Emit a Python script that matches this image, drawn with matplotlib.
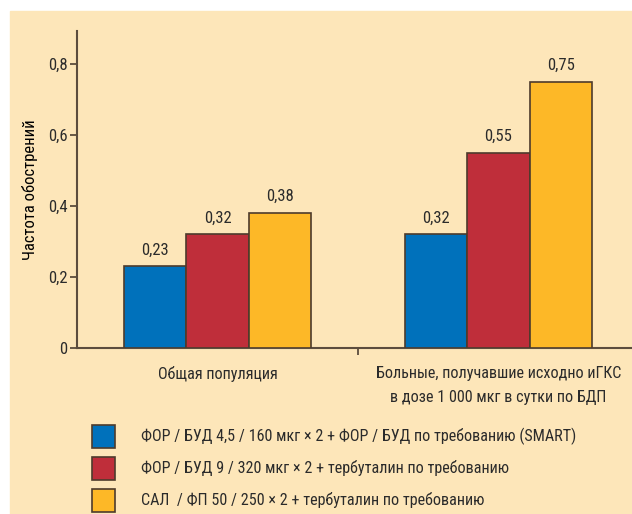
import matplotlib
matplotlib.use("Agg")
import matplotlib.pyplot as plt
from matplotlib.patches import Rectangle
import numpy as np

# data
groups = ["Общая популяция",
          "Больные, получавшие исходно иГКС\nв дозе 1 000 мкг в сутки по БДП"]
series = ["ФОР / БУД 4,5 / 160 мкг × 2 + ФОР / БУД по требованию (SMART)",
          "ФОР / БУД 9 / 320 мкг × 2 + тербуталин по требованию",
          "САЛ  / ФП 50 / 250 × 2 + тербуталин по требованию"]
smart = [0.23, 0.32]
bud_terb = [0.32, 0.55]
sal_fp = [0.38, 0.75]
yticks = [0, 0.2, 0.4, 0.6, 0.8]
ytick_labels = ["0", "0,2", "0,4", "0,6", "0,8"]
ylabel = "Частота обострений"

colors = ["#0071BB", "#BF2E3A", "#FDB827"]
edge = "#4d3b2c"
bg = "#FDE6B9"
axis_col = "#5c4d3e"

plt.rcParams["font.family"] = ["Roboto Condensed", "PT Sans Narrow", "DejaVu Sans"]
plt.rcParams["text.color"] = "#2b2b2b"
plt.rcParams["ytick.labelcolor"] = "#2b2b2b"
fs = 11.6

W, H = 632, 514
fig = plt.figure(figsize=(W / 100, H / 100), dpi=100)
fig.patches.append(Rectangle((10 / W, 0), 1 - 10 / W, 1 - 11 / H,
                             transform=fig.transFigure, color=bg, zorder=-10))

ax = fig.add_axes([77 / W, 1 - 348 / H, 1 - 77 / W, (348 - 31) / H])
ax.set_facecolor("none")

centers = np.array([0, 4.5])
bw = 1.0
for i, vals in enumerate([smart, bud_terb, sal_fp]):
    xs = centers + (i - 1) * bw
    ax.bar(xs, vals, width=bw, color=colors[i], edgecolor=edge, linewidth=1.2, zorder=3)
    for x, v in zip(xs, vals):
        ax.text(x, v + 0.025, f"{v:.2f}".replace(".", ","), ha="center", va="bottom",
                fontsize=fs + 0.4)

ax.set_xlim(-2.25, 6.64)
ax.set_ylim(0, 0.893)
ax.set_yticks(yticks)
ax.set_yticklabels(ytick_labels, fontsize=fs + 0.4)
ax.set_xticks([centers.mean()])
ax.set_xticklabels([""])
ax.tick_params(axis="both", direction="out", length=5, width=1.3, color=axis_col, pad=2)
for s in ["top", "right"]:
    ax.spines[s].set_visible(False)
for s in ["left", "bottom"]:
    ax.spines[s].set_color(axis_col)
    ax.spines[s].set_linewidth(1.5)
ax.set_ylabel(ylabel, fontsize=12, labelpad=7)

for c, g in zip(centers, groups):
    ax.text(c, -0.05, g, ha="center", va="top", fontsize=fs, linespacing=1.75)

# legend
lax = fig.add_axes([0, 0, 1, 1])
lax.set_xlim(0, W)
lax.set_ylim(H, 0)
lax.axis("off")
for i, lab in enumerate(series):
    y0 = 425 + i * 32
    lax.add_patch(Rectangle((92, y0), 23, 23, facecolor=colors[i], edgecolor=edge, linewidth=1.2))
    lax.text(141, y0 + 11.5, lab, ha="left", va="center", fontsize=fs)

fig.savefig("out.png", dpi=100)
